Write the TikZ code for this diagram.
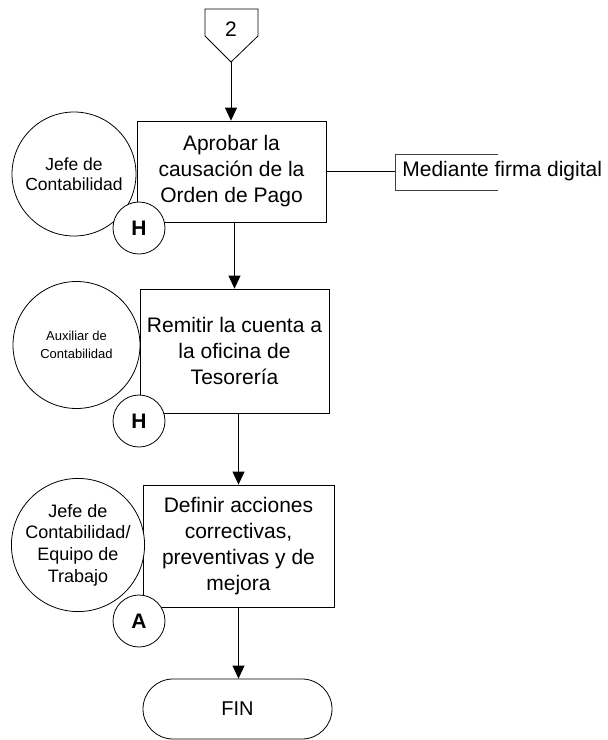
\documentclass[tikz,border=0pt]{standalone}
\usepackage{fontspec}
\setmainfont{Liberation Sans}
\usetikzlibrary{arrows.meta}

\tikzset{
  paso/.style={draw, fill=white, minimum width=189pt, minimum height=101pt,
    inner sep=0pt, align=center, font=\fontsize{21}{26}\selectfont},
  resp/.style={draw, circle, fill=white, minimum size=124pt, inner sep=0pt, align=center},
  tipo/.style={draw, circle, fill=white, minimum size=52pt, inner sep=0pt,
    font=\fontsize{21}{24}\selectfont\bfseries},
  flecha/.style={-{Triangle[width=12pt,length=13pt]}},
}

\begin{document}
\begin{tikzpicture}[x=1pt, y=-1pt, line width=0.8pt]
    \useasboundingbox (0,0) rectangle (608,740);

    % --- Conector de pagina ---
    \draw (205,9) -- (258,9) -- (258,36) -- (231,62) -- (205,36) -- cycle;
    \node (con) at (231,29) {\fontsize{21}{25}\selectfont 2};
    \coordinate (conpunta) at (231,62);

    % --- Actividades ---
    \node[paso] (act1) at (231.5,171.5) {Aprobar la\\causación de la\\Orden de Pago};
    \node[paso, minimum height=124pt] (act2) at (234.5,351) {Remitir la cuenta a\\la oficina de\\Tesorería};
    \node[paso, minimum width=191pt, minimum height=122pt] (act3) at (238.5,546)
        {Definir acciones\\correctivas,\\preventivas y de\\mejora};
    \node[paso, rounded corners=30pt, minimum height=60pt, font=\fontsize{20}{24}\selectfont] (fin) at (237.5,709) {FIN};

    % --- Responsables ---
    \node[resp, font=\fontsize{17.5}{20}\selectfont] (resp1) at (74,174) {Jefe de\\Contabilidad};
    \node[resp, minimum size=127pt, font=\fontsize{13}{18}\selectfont] (resp2) at (76.5,345) {Auxiliar de\\Contabilidad};
    \node[resp, minimum size=125pt, font=\fontsize{18}{21.7}\selectfont] (resp3) at (78,545)
        {Jefe de\\Contabilidad/\\Equipo de\\Trabajo};

    % --- Tipo de registro ---
    \node[tipo] (tipo1) at (139,228) {H};
    \node[tipo] (tipo2) at (139,421) {H};
    \node[tipo] (tipo3) at (139,621) {A};

    % --- Flujo ---
    \draw[flecha] (conpunta) -- (conpunta |- act1.north);
    \draw[flecha] (act1.south -| act2) -- (act2.north);
    \draw[flecha] (act2.south -| act3) -- (act3.north);
    \draw[flecha] (act3.south) -- (act3.south |- fin.north);

    % --- Nota ---
    \coordinate (nota) at (395,171.5);
    \draw (act1.east) -- (nota);
    \draw[black!75] (498,154) -- (395,154) -- (395,190) -- (498,190);
    \node[anchor=west, inner sep=0pt, font=\fontsize{21}{25}\selectfont] (notatxt) at (402,171.5) {Mediante firma digital};
\end{tikzpicture}
\end{document}
